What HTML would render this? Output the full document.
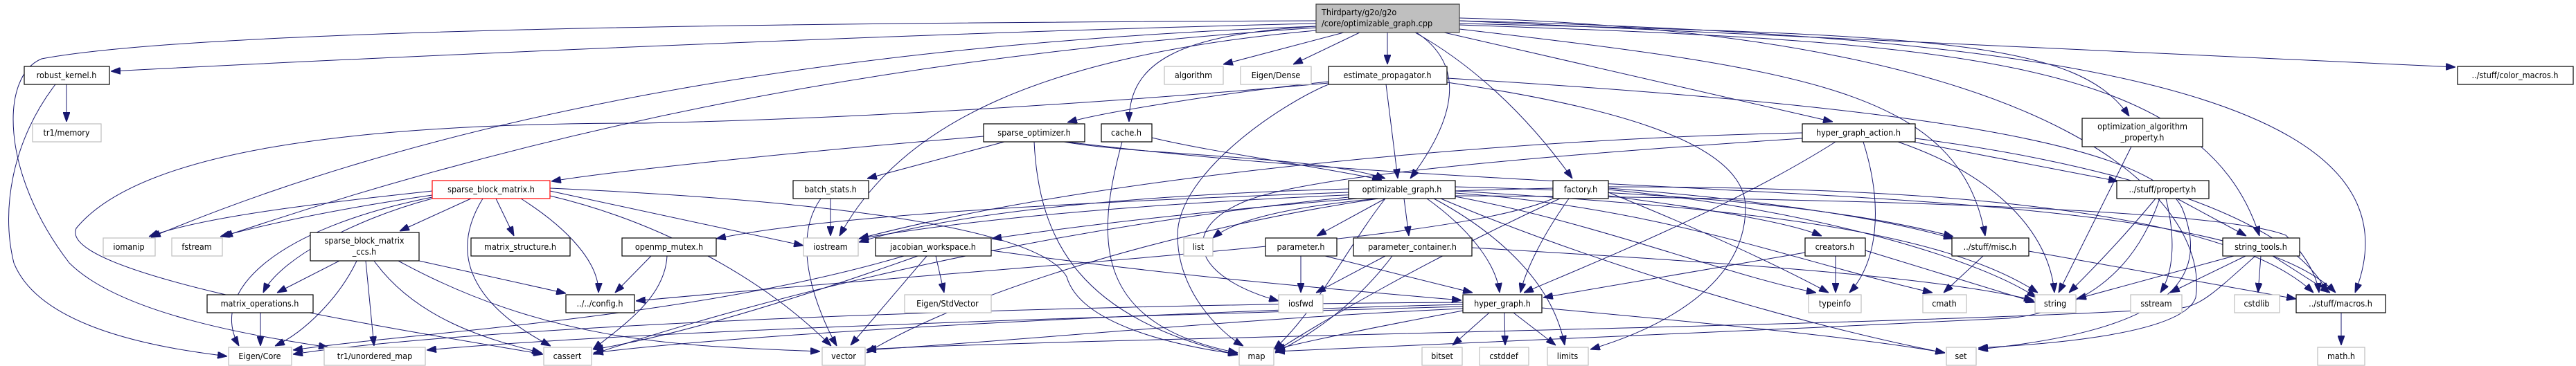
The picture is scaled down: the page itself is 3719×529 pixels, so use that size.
<!DOCTYPE html>
<html><head><meta charset="utf-8"><style>
html,body{margin:0;padding:0;background:#fff;}
svg{display:block;}
text{font-family:"DejaVu Sans Condensed","Liberation Sans",sans-serif;font-size:12.5px;fill:#000;}
.n{fill:#fff;stroke:#000;stroke-width:1.2;}
.g{fill:#fff;stroke:#bfbfbf;stroke-width:1.2;}
.e path{fill:none;stroke:#191970;stroke-width:1;}
</style></head><body>
<svg width="3719" height="529" viewBox="0 0 3719 529" xmlns="http://www.w3.org/2000/svg">
<defs><marker id="a" markerUnits="userSpaceOnUse" markerWidth="14" markerHeight="10" viewBox="0 0 10 10" refX="10" refY="5" orient="auto" preserveAspectRatio="none"><path d="M0,0 L10,5 L0,10 z" fill="#191970" stroke="#191970"/></marker></defs>
<g class="e">
<path marker-end="url(#a)" d="M1900,34 C1400,45 600,80 160,103"/>
<path marker-end="url(#a)" d="M1900,30 C1200,33 300,40 60,85 C0,110 0,250 100,380 C180,460 400,490 474,502"/>
<path marker-end="url(#a)" d="M1900,38 C1300,60 700,140 218,343"/>
<path marker-end="url(#a)" d="M1900,40 C1300,80 800,180 322,342"/>
<path marker-end="url(#a)" d="M1940,47 L1766,93"/>
<path marker-end="url(#a)" d="M1963,47 L1867,93"/>
<path marker-end="url(#a)" d="M2003,47 L2003,93"/>
<path marker-end="url(#a)" d="M2045,47 C2110,90 2110,160 2036,258"/>
<path marker-end="url(#a)" d="M2043,47 C2120,90 2200,160 2270,258"/>
<path marker-end="url(#a)" d="M2085,47 L2646,176"/>
<path marker-end="url(#a)" d="M2107,42 C2600,100 2830,130 2866,341"/>
<path marker-end="url(#a)" d="M2107,36 C2800,60 3180,80 3262,341"/>
<path marker-end="url(#a)" d="M2107,34 C2800,50 3000,60 3074,168"/>
<path marker-end="url(#a)" d="M2107,30 C2900,50 3520,120 3400,423"/>
<path marker-end="url(#a)" d="M2107,30 L3545,97"/>
<path marker-end="url(#a)" d="M1900,38 C1700,50 1630,90 1630,176"/>
<path marker-end="url(#a)" d="M1900,44 C1500,80 1300,180 1212,341"/>
<path marker-end="url(#a)" d="M2107,26 C3000,50 3190,300 3170,430 C3150,490 2900,500 2856,503"/>
<path marker-end="url(#a)" d="M2001,122 L2018,258"/>
<path marker-end="url(#a)" d="M1918,118 C1800,130 1600,160 1541,177"/>
<path marker-end="url(#a)" d="M1918,122 C1850,150 1700,250 1700,340 C1700,420 1760,480 1795,500"/>
<path marker-end="url(#a)" d="M2089,119 C2300,150 2520,200 2520,300 C2520,420 2380,480 2296,505"/>
<path marker-end="url(#a)" d="M2089,113 C2700,150 3100,200 3150,300 C3200,420 3100,480 2856,505"/>
<path marker-end="url(#a)" d="M1918,120 C1700,140 1300,170 930,178 C500,178 200,220 110,330 C80,400 600,480 784,512"/>
<path marker-end="url(#a)" d="M1450,205 L1252,258"/>
<path marker-end="url(#a)" d="M1420,197 C1200,215 900,245 796,262"/>
<path marker-end="url(#a)" d="M1493,205 C1500,350 1560,460 1787,513"/>
<path marker-end="url(#a)" d="M1536,205 C1650,225 1900,225 2000,258"/>
<path marker-end="url(#a)" d="M1540,205 C2300,300 3200,250 3372,423"/>
<path marker-end="url(#a)" d="M1620,205 C1580,350 1580,470 1787,510"/>
<path marker-end="url(#a)" d="M1663,199 C1750,220 1900,240 1995,260"/>
<path marker-end="url(#a)" d="M1199,287 L1199,341"/>
<path marker-end="url(#a)" d="M1185,287 C1140,350 1180,450 1208,500"/>
<path marker-end="url(#a)" d="M624,276 C500,290 300,310 215,342"/>
<path marker-end="url(#a)" d="M624,282 C500,300 400,320 318,342"/>
<path marker-end="url(#a)" d="M680,287 L577,334"/>
<path marker-end="url(#a)" d="M716,287 L742,341"/>
<path marker-end="url(#a)" d="M752,287 C820,330 865,380 864,423"/>
<path marker-end="url(#a)" d="M624,287 C500,320 400,380 380,423"/>
<path marker-end="url(#a)" d="M624,285 C400,330 300,420 345,500"/>
<path marker-end="url(#a)" d="M697,287 C640,380 700,450 795,500"/>
<path marker-end="url(#a)" d="M794,276 L1160,355"/>
<path marker-end="url(#a)" d="M794,283 C950,320 1100,400 1200,500"/>
<path marker-end="url(#a)" d="M794,272 C1200,290 1500,330 1540,400 C1560,470 1700,500 1787,512"/>
<path marker-end="url(#a)" d="M490,377 L400,423"/>
<path marker-end="url(#a)" d="M515,377 C490,430 440,480 397,500"/>
<path marker-end="url(#a)" d="M528,377 L540,500"/>
<path marker-end="url(#a)" d="M540,377 C600,460 700,490 782,510"/>
<path marker-end="url(#a)" d="M605,377 L817,424"/>
<path marker-end="url(#a)" d="M575,377 C800,500 1000,500 1184,508"/>
<path marker-end="url(#a)" d="M376,452 L376,500"/>
<path marker-end="url(#a)" d="M940,370 L888,423"/>
<path marker-end="url(#a)" d="M963,370 C960,430 900,470 856,505"/>
<path marker-end="url(#a)" d="M96,122 L96,176"/>
<path marker-end="url(#a)" d="M80,122 C20,200 0,300 20,380 C60,480 250,505 328,515"/>
<path marker-end="url(#a)" d="M1947,273 C1700,280 1400,300 1240,350"/>
<path marker-end="url(#a)" d="M1947,278 C1600,290 1200,310 1034,345"/>
<path marker-end="url(#a)" d="M1960,287 C1800,300 1600,320 1432,345"/>
<path marker-end="url(#a)" d="M1990,287 C1850,300 1780,320 1751,344"/>
<path marker-end="url(#a)" d="M2000,287 L1901,341"/>
<path marker-end="url(#a)" d="M2027,287 L2034,341"/>
<path marker-end="url(#a)" d="M2060,287 C2120,330 2160,380 2165,423"/>
<path marker-end="url(#a)" d="M2070,287 C2150,330 2240,400 2259,499"/>
<path marker-end="url(#a)" d="M2095,283 C2300,320 2500,400 2622,423"/>
<path marker-end="url(#a)" d="M2101,279 C2400,300 2600,380 2790,423"/>
<path marker-end="url(#a)" d="M2080,287 C2300,380 2600,470 2808,510"/>
<path marker-end="url(#a)" d="M2101,276 C2500,300 2800,330 2942,423"/>
<path marker-end="url(#a)" d="M2101,270 C2500,280 2700,310 2820,342"/>
<path marker-end="url(#a)" d="M2101,283 C2600,285 3200,300 3300,340 C3330,370 3345,400 3348,423"/>
<path marker-end="url(#a)" d="M1990,287 C1700,330 1400,420 1251,510"/>
<path marker-end="url(#a)" d="M2000,287 C1950,350 1900,450 1839,505"/>
<path marker-end="url(#a)" d="M1947,285 C1500,330 1100,430 856,512"/>
<path marker-end="url(#a)" d="M2265,287 C2220,350 2200,400 2195,423"/>
<path marker-end="url(#a)" d="M2322,283 C2450,300 2580,320 2630,341"/>
<path marker-end="url(#a)" d="M2322,274 C2600,300 2850,370 2940,430"/>
<path marker-end="url(#a)" d="M2322,272 C2500,285 2700,310 2820,345"/>
<path marker-end="url(#a)" d="M2322,270 C2700,270 3200,290 3340,423"/>
<path marker-end="url(#a)" d="M2242,272 C1900,280 1500,300 1240,345"/>
<path marker-end="url(#a)" d="M2322,278 C2450,330 2560,380 2640,423"/>
<path marker-end="url(#a)" d="M2252,287 C2050,380 1900,470 1841,508"/>
<path marker-end="url(#a)" d="M2242,287 C2100,350 1500,380 918,435"/>
<path marker-end="url(#a)" d="M2650,205 C2500,300 2300,380 2200,423"/>
<path marker-end="url(#a)" d="M2690,205 C2720,300 2710,380 2670,423"/>
<path marker-end="url(#a)" d="M2762,205 L3058,262"/>
<path marker-end="url(#a)" d="M2740,205 C2900,260 2960,350 2966,423"/>
<path marker-end="url(#a)" d="M2602,192 C2200,200 1600,250 1240,345"/>
<path marker-end="url(#a)" d="M2765,200 C3000,230 3300,300 3360,423"/>
<path marker-end="url(#a)" d="M2602,200 C2300,220 1900,250 1800,290 C1700,330 1720,400 1846,435"/>
<path marker-end="url(#a)" d="M1878,370 L1878,423"/>
<path marker-end="url(#a)" d="M1913,370 L2126,423"/>
<path marker-end="url(#a)" d="M2000,370 L1900,423"/>
<path marker-end="url(#a)" d="M2010,370 C1950,450 1880,490 1841,510"/>
<path marker-end="url(#a)" d="M2125,358 C2500,380 2800,400 2936,434"/>
<path marker-end="url(#a)" d="M1351,370 L1363,423"/>
<path marker-end="url(#a)" d="M1305,370 C1000,460 600,480 423,506"/>
<path marker-end="url(#a)" d="M1338,370 L1228,499"/>
<path marker-end="url(#a)" d="M1325,370 C1100,450 950,490 857,505"/>
<path marker-end="url(#a)" d="M1431,362 C1700,400 1950,420 2110,434"/>
<path marker-end="url(#a)" d="M2650,370 L2650,423"/>
<path marker-end="url(#a)" d="M2606,365 L2228,430"/>
<path marker-end="url(#a)" d="M2693,362 L2938,437"/>
<path marker-end="url(#a)" d="M2150,452 L2097,499"/>
<path marker-end="url(#a)" d="M2172,452 L2173,499"/>
<path marker-end="url(#a)" d="M2185,452 L2246,499"/>
<path marker-end="url(#a)" d="M2226,445 C2500,470 2700,490 2808,510"/>
<path marker-end="url(#a)" d="M2112,449 C2000,470 1900,490 1841,505"/>
<path marker-end="url(#a)" d="M2112,446 C1800,460 1500,490 1251,506"/>
<path marker-end="url(#a)" d="M2112,443 C1500,460 900,480 616,506"/>
<path marker-end="url(#a)" d="M2112,440 C1700,450 1100,480 857,510"/>
<path marker-end="url(#a)" d="M2112,437 C1500,440 700,470 423,512"/>
<path marker-end="url(#a)" d="M3112,287 C3060,350 3010,400 2987,423"/>
<path marker-end="url(#a)" d="M3143,287 L3243,341"/>
<path marker-end="url(#a)" d="M3127,287 C3140,340 3140,390 3119,423"/>
<path marker-end="url(#a)" d="M3118,287 C3080,400 3000,450 2900,460 C2500,480 2000,500 1841,508"/>
<path marker-end="url(#a)" d="M2863,370 L2806,423"/>
<path marker-end="url(#a)" d="M2929,363 L3315,432"/>
<path marker-end="url(#a)" d="M3225,370 L2998,432"/>
<path marker-end="url(#a)" d="M3242,370 L3133,423"/>
<path marker-end="url(#a)" d="M3264,370 L3260,423"/>
<path marker-end="url(#a)" d="M3281,370 L3364,423"/>
<path marker-end="url(#a)" d="M3256,370 C3200,420 3180,440 3150,445 C2800,470 1500,490 1251,505"/>
<path marker-end="url(#a)" d="M3380,452 L3380,499"/>
<path marker-end="url(#a)" d="M3077,212 L2972,423"/>
</g>
<g text-anchor="middle">
<rect x="1900" y="6" width="207" height="41" fill="#bfbfbf" stroke="#404040" stroke-width="1.2"/>
<text x="1908" y="22" text-anchor="start">Thirdparty/g2o/g2o</text>
<text x="1908" y="38" text-anchor="start">/core/optimizable_graph.cpp</text>
<rect class="n" x="35" y="96" width="123" height="26"/><text x="96" y="113">robust_kernel.h</text>
<rect class="g" x="47" y="179" width="99" height="26"/><text x="96" y="196">tr1/memory</text>
<rect x="624" y="261" width="170" height="26" fill="#fff" stroke="#ff0000" stroke-width="1.2"/><text x="709" y="278">sparse_block_matrix.h</text>
<rect class="g" x="149" y="344" width="75" height="26"/><text x="186" y="361">iomanip</text>
<rect class="g" x="248" y="344" width="73" height="26"/><text x="284" y="361">fstream</text>
<rect class="n" x="448" y="336" width="157" height="41"/><text x="526" y="352">sparse_block_matrix</text><text x="526" y="368">_ccs.h</text>
<rect class="n" x="680" y="344" width="143" height="26"/><text x="751" y="361">matrix_structure.h</text>
<rect class="n" x="898" y="344" width="136" height="26"/><text x="966" y="361">openmp_mutex.h</text>
<rect class="n" x="299" y="426" width="153" height="26"/><text x="375" y="443">matrix_operations.h</text>
<rect class="n" x="817" y="426" width="99" height="26"/><text x="866" y="443">../../config.h</text>
<rect class="g" x="330" y="502" width="91" height="26"/><text x="375" y="519">Eigen/Core</text>
<rect class="g" x="468" y="502" width="146" height="26"/><text x="541" y="519">tr1/unordered_map</text>
<rect class="g" x="785" y="502" width="69" height="26"/><text x="819" y="519">cassert</text>
<rect class="g" x="1681" y="96" width="85" height="26"/><text x="1723" y="113">algorithm</text>
<rect class="g" x="1791" y="96" width="102" height="26"/><text x="1842" y="113">Eigen/Dense</text>
<rect class="n" x="1420" y="179" width="146" height="26"/><text x="1493" y="196">sparse_optimizer.h</text>
<rect class="n" x="1590" y="179" width="73" height="26"/><text x="1626" y="196">cache.h</text>
<rect class="n" x="1145" y="261" width="109" height="26"/><text x="1199" y="278">batch_stats.h</text>
<rect class="g" x="1160" y="344" width="79" height="26"/><text x="1199" y="361">iostream</text>
<rect class="n" x="1264" y="344" width="167" height="26"/><text x="1347" y="361">jacobian_workspace.h</text>
<rect class="g" x="1709" y="344" width="42" height="26"/><text x="1730" y="361">list</text>
<rect class="n" x="1827" y="344" width="103" height="26"/><text x="1878" y="361">parameter.h</text>
<rect class="g" x="1306" y="426" width="125" height="26"/><text x="1368" y="443">Eigen/StdVector</text>
<rect class="g" x="1846" y="426" width="64" height="26"/><text x="1878" y="443">iosfwd</text>
<rect class="g" x="1187" y="502" width="62" height="26"/><text x="1218" y="519">vector</text>
<rect class="g" x="1789" y="502" width="50" height="26"/><text x="1814" y="519">map</text>
<rect class="n" x="1918" y="96" width="171" height="26"/><text x="2003" y="113">estimate_propagator.h</text>
<rect class="n" x="2602" y="179" width="163" height="26"/><text x="2683" y="196">hyper_graph_action.h</text>
<rect class="n" x="1947" y="261" width="154" height="26"/><text x="2024" y="278">optimizable_graph.h</text>
<rect class="n" x="2242" y="261" width="80" height="26"/><text x="2282" y="278">factory.h</text>
<rect class="n" x="1954" y="344" width="171" height="26"/><text x="2039" y="361">parameter_container.h</text>
<rect class="n" x="2606" y="344" width="87" height="26"/><text x="2649" y="361">creators.h</text>
<rect class="n" x="2112" y="426" width="114" height="26"/><text x="2169" y="443">hyper_graph.h</text>
<rect class="g" x="2611" y="426" width="76" height="26"/><text x="2649" y="443">typeinfo</text>
<rect class="g" x="2776" y="426" width="63" height="26"/><text x="2807" y="443">cmath</text>
<rect class="g" x="2053" y="502" width="58" height="26"/><text x="2082" y="519">bitset</text>
<rect class="g" x="2136" y="502" width="71" height="26"/><text x="2171" y="519">cstddef</text>
<rect class="g" x="2234" y="502" width="59" height="26"/><text x="2263" y="519">limits</text>
<rect class="n" x="3548" y="96" width="167" height="26"/><text x="3631" y="113">../stuff/color_macros.h</text>
<rect class="n" x="3006" y="171" width="174" height="41"/><text x="3093" y="187">optimization_algorithm</text><text x="3093" y="203">_property.h</text>
<rect class="n" x="3056" y="261" width="133" height="26"/><text x="3122" y="278">../stuff/property.h</text>
<rect class="n" x="2818" y="344" width="111" height="26"/><text x="2873" y="361">../stuff/misc.h</text>
<rect class="n" x="3209" y="344" width="111" height="26"/><text x="3264" y="361">string_tools.h</text>
<rect class="g" x="2938" y="426" width="59" height="26"/><text x="2967" y="443">string</text>
<rect class="g" x="3076" y="426" width="74" height="26"/><text x="3113" y="443">sstream</text>
<rect class="g" x="3226" y="426" width="65" height="26"/><text x="3258" y="443">cstdlib</text>
<rect class="n" x="3315" y="426" width="129" height="26"/><text x="3379" y="443">../stuff/macros.h</text>
<rect class="g" x="2810" y="502" width="43" height="26"/><text x="2831" y="519">set</text>
<rect class="g" x="3346" y="502" width="68" height="26"/><text x="3380" y="519">math.h</text>
</g>
</svg>
</body></html>
